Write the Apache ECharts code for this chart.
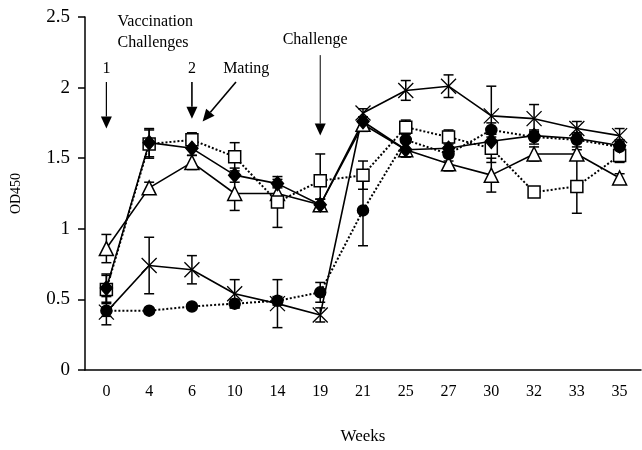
<!DOCTYPE html>
<html>
<head>
<meta charset="utf-8">
<script src="https://cdn.jsdelivr.net/npm/echarts@6/dist/echarts.min.js"></script>
<style>
  html, body { margin: 0; padding: 0; background: #fff; }
  #chart { width: 642px; height: 450px; }
</style>
</head>
<body>
<div id="chart"></div>
<script>
// Sampling weeks
const weeks = ['0', '4', '6', '10', '14', '19', '21', '25', '27', '30', '32', '33', '35'];

// Mean OD450 per group, with standard error
const diamondVals = [0.58, 1.61, 1.57, 1.38, 1.32, 1.17, 1.76, 1.56, 1.57, 1.62, 1.66, 1.64, 1.59];
const diamondErr  = [0.10, 0.10, 0.05, 0.05, 0.03, 0.04, 0.03, 0.05, 0.05, 0.05, 0.03, 0.03, 0.03];

const squareVals  = [0.57, 1.60, 1.63, 1.51, 1.19, 1.34, 1.38, 1.72, 1.65, 1.57, 1.26, 1.30, 1.52];
const squareErr   = [0.10, 0.10, 0.05, 0.10, 0.18, 0.19, 0.10, 0.05, 0.05, 0.10, 0.03, 0.19, 0.05];

const triangleVals = [0.86, 1.29, 1.47, 1.25, 1.25, 1.17, 1.74, 1.56, 1.46, 1.38, 1.53, 1.53, 1.36];
const triangleErr  = [0.10, 0.04, 0.05, 0.12, 0.05, 0.04, 0.05, 0.05, 0.05, 0.12, 0.05, 0.03, 0.03];

const crossVals = [0.41, 0.74, 0.71, 0.54, 0.47, 0.39, 1.82, 1.98, 2.01, 1.80, 1.78, 1.71, 1.66];
const crossErr  = [0.03, 0.20, 0.10, 0.10, 0.17, 0.05, 0.03, 0.07, 0.08, 0.21, 0.10, 0.05, 0.05];

const circleVals = [0.42, 0.42, 0.45, 0.47, 0.49, 0.55, 1.13, 1.63, 1.53, 1.70, 1.65, 1.63, 1.58];
const circleErr  = [0.10, 0.02, 0.02, 0.03, 0.03, 0.07, 0.25, 0.12, 0.05, 0.05, 0.05, 0.05, 0.05];

const yTicks = { min: 0, max: 2.5, step: 0.5 };

const FONT = 'Liberation Serif';
const INK = '#000';

const chart = echarts.init(document.getElementById('chart'), null, { renderer: 'canvas' });

// Vertical error bars with T caps
function errorSeries(vals, errs) {
  return {
    type: 'custom',
    silent: true,
    z: 1,
    data: vals.map((v, i) => [i, v - errs[i], v + errs[i]]),
    renderItem: function (params, api) {
      const lo = api.coord([api.value(0), api.value(1)]);
      const hi = api.coord([api.value(0), api.value(2)]);
      const w = 5;
      const st = { stroke: INK, lineWidth: 1.5 };
      return {
        type: 'group',
        children: [
          { type: 'line', shape: { x1: hi[0], y1: hi[1], x2: lo[0], y2: lo[1] }, style: st },
          { type: 'line', shape: { x1: hi[0] - w, y1: hi[1], x2: hi[0] + w, y2: hi[1] }, style: st },
          { type: 'line', shape: { x1: lo[0] - w, y1: lo[1], x2: lo[0] + w, y2: lo[1] }, style: st }
        ]
      };
    }
  };
}

function lineSeries(name, vals, symbol, size, filled, dotted, border) {
  return {
    name: name,
    type: 'line',
    data: vals,
    symbol: symbol,
    symbolSize: size,
    showAllSymbol: true,
    z: 3,
    lineStyle: { color: INK, width: dotted ? 2 : 1.6, type: dotted ? 'dotted' : 'solid' },
    itemStyle: { color: filled ? INK : '#fff', borderColor: INK, borderWidth: border || 1.5 },
    emphasis: { disabled: true }
  };
}

const crossPath = 'path://M0,0L10,10M10,0L0,10';

chart.setOption({
  animation: false,
  backgroundColor: '#fff',
  grid: { left: 85, right: 1, top: 17, bottom: 77 },
  xAxis: {
    type: 'category',
    data: weeks,
    boundaryGap: true,
    name: 'Weeks',
    nameLocation: 'middle',
    nameGap: 58,
    nameTextStyle: { fontFamily: FONT, fontSize: 17, color: INK },
    axisLine: { lineStyle: { color: INK, width: 1.5 } },
    axisTick: { show: false },
    axisLabel: { fontFamily: FONT, fontSize: 16, color: INK, margin: 14 },
    splitLine: { show: false }
  },
  yAxis: {
    type: 'value',
    min: yTicks.min,
    max: yTicks.max,
    interval: yTicks.step,
    name: 'OD450',
    nameLocation: 'middle',
    nameGap: 62,
    nameRotate: 90,
    nameTextStyle: { fontFamily: FONT, fontSize: 14, color: INK },
    axisLine: { show: true, lineStyle: { color: INK, width: 1.5 } },
    axisTick: { show: true, inside: false, length: 7, lineStyle: { color: INK, width: 1.5 } },
    axisLabel: { fontFamily: FONT, fontSize: 19, color: INK, margin: 15 },
    splitLine: { show: false }
  },
  series: [
    errorSeries(triangleVals, triangleErr),
    errorSeries(squareVals, squareErr),
    errorSeries(diamondVals, diamondErr),
    errorSeries(circleVals, circleErr),
    errorSeries(crossVals, crossErr),
    lineSeries('Triangle', triangleVals, 'triangle', 14, false, false),
    lineSeries('Square', squareVals, 'rect', 12, false, true),
    lineSeries('Diamond', diamondVals, 'diamond', [12, 14], true, false),
    lineSeries('Circle', circleVals, 'circle', 11, true, true),
    lineSeries('Cross', crossVals, crossPath, 15, false, false, 1.3)
  ]
});

// Annotation arrows and labels, placed in axis space
const p0 = chart.convertToPixel({ xAxisIndex: 0 }, 0);
const p1 = chart.convertToPixel({ xAxisIndex: 0 }, 1);
const step = p1 - p0;
const X = f => p0 + f * step;
const Y = v => chart.convertToPixel({ yAxisIndex: 0 }, v);

function arrow(x1, y1, x2, y2, width) {
  const ang = Math.atan2(y2 - y1, x2 - x1);
  const L = 12, W = 5.5;
  const bx = x2 - L * Math.cos(ang), by = y2 - L * Math.sin(ang);
  const nx = -Math.sin(ang), ny = Math.cos(ang);
  return [
    { type: 'line', shape: { x1: x1, y1: y1, x2: bx, y2: by }, style: { stroke: INK, lineWidth: width } },
    { type: 'polygon', shape: { points: [[x2, y2], [bx + nx * W, by + ny * W], [bx - nx * W, by - ny * W]] }, style: { fill: INK } }
  ];
}

function label(text, x, y, align) {
  return {
    type: 'text',
    x: x, y: y,
    style: { text: text, fontFamily: FONT, fontSize: 16, fill: INK, align: align || 'center', verticalAlign: 'middle' }
  };
}

const graphics = [
  label('Vaccination', X(0.26), Y(2.465), 'left'),
  label('Challenges', X(0.26), Y(2.32), 'left'),
  label('1', X(0), Y(2.13)),
  label('2', X(2), Y(2.13)),
  label('Mating', X(3.27), Y(2.13)),
  label('Challenge', X(4.88), Y(2.34))
]
  .concat(arrow(X(0), Y(2.04), X(0), Y(1.71), 1.2))
  .concat(arrow(X(2), Y(2.04), X(2), Y(1.78), 1.6))
  .concat(arrow(X(3.03), Y(2.04), X(2.25), Y(1.76), 1.6))
  .concat(arrow(X(5), Y(2.23), X(5), Y(1.66), 1));

chart.setOption({ graphic: graphics });
</script>
</body>
</html>
